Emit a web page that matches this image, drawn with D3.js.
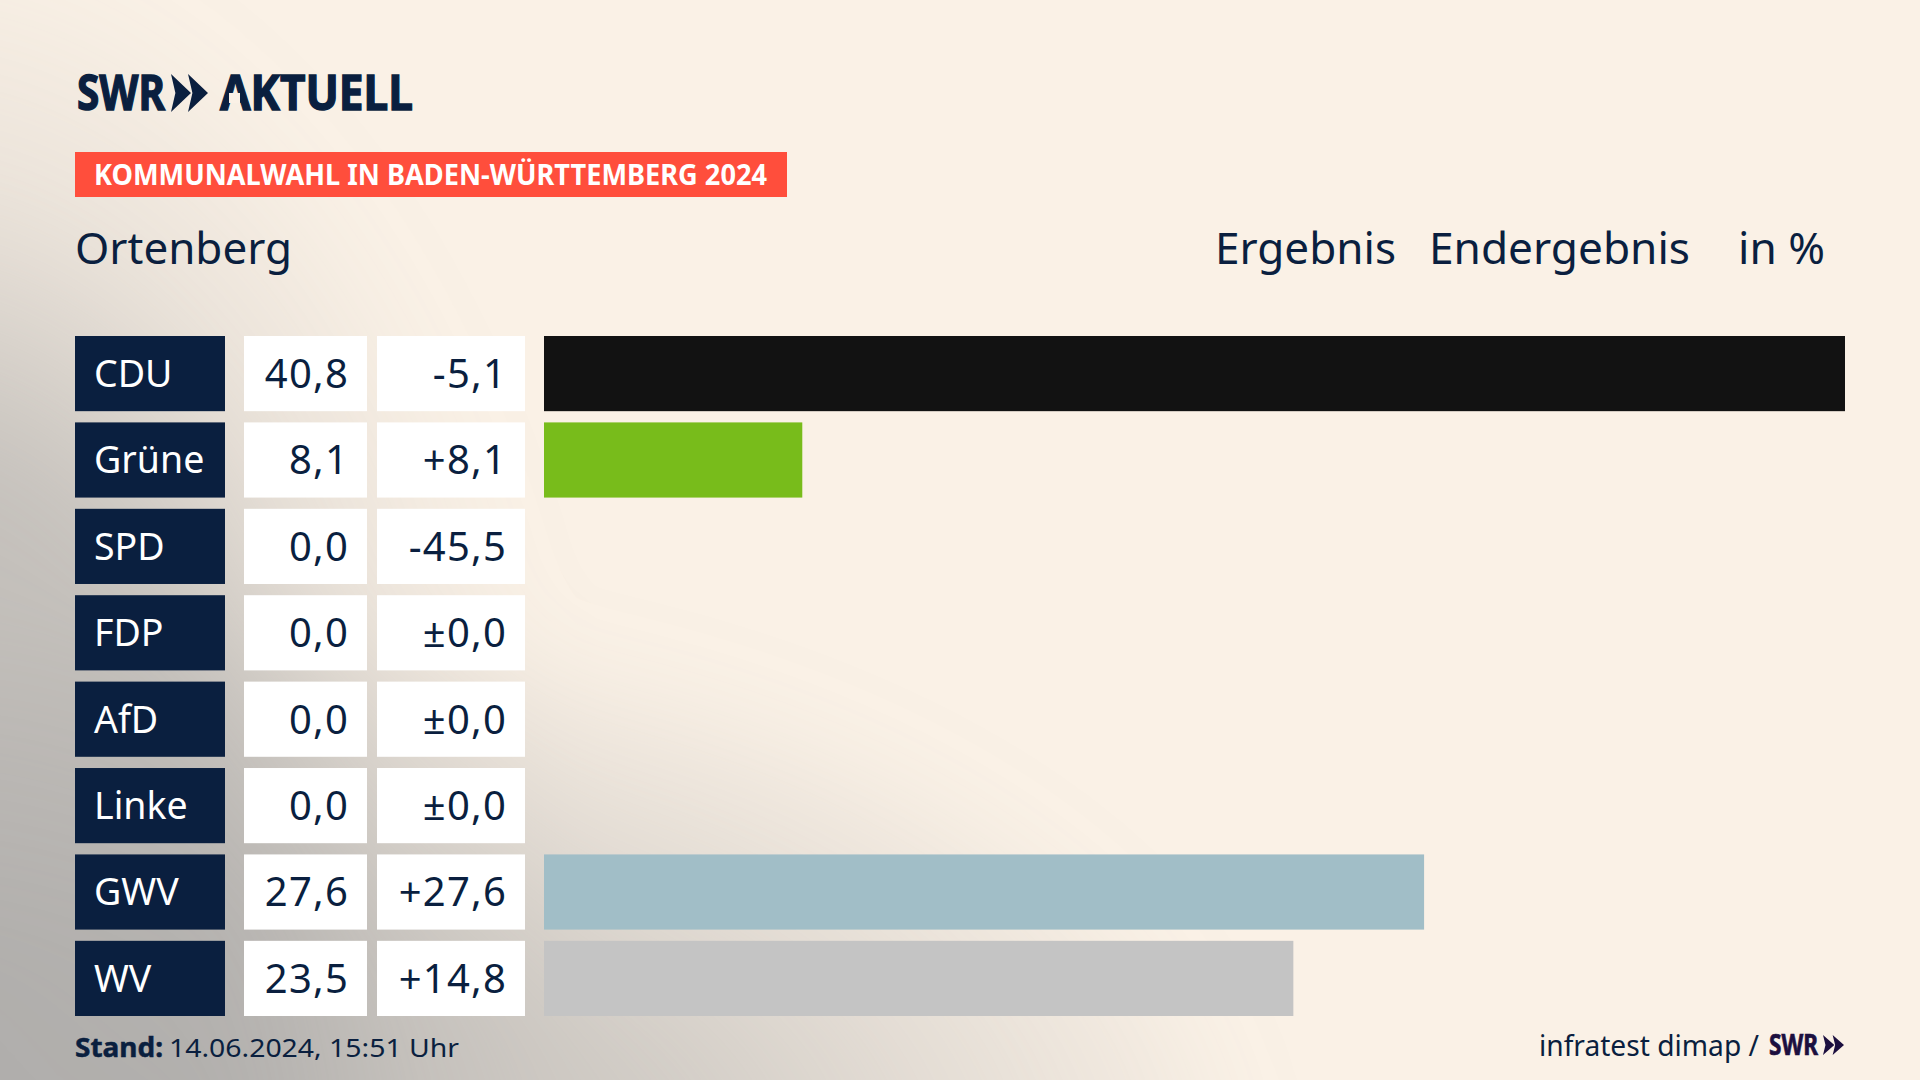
<!DOCTYPE html>
<html>
<head>
<meta charset="utf-8">
<script src="https://cdnjs.cloudflare.com/ajax/libs/d3/7.8.5/d3.min.js"></script>
<style>
body { margin: 0; background: #faf1e6; overflow: hidden; }
text { font-family: "Noto Sans", sans-serif; }
</style>
</head>
<body>
<script>
// data
var parties = ["CDU", "Grüne", "SPD", "FDP", "AfD", "Linke", "GWV", "WV"];
var results = [40.8, 8.1, 0.0, 0.0, 0.0, 0.0, 27.6, 23.5];
var changes = [-5.1, 8.1, -45.5, 0.0, 0.0, 0.0, 27.6, 14.8];
var barColors = ["#121212", "#78bc1b", "#e2001a", "#ffe000", "#00a0e0", "#b0006a", "#a1bec7", "#c4c4c4"];

var width = 1920;
var height = 1080;
var navy = "#0a1f3f";
var bg = "#faf1e6";

var svg = d3.select("body").append("svg")
  .attr("width", width)
  .attr("height", height);

var defs = svg.append("defs");

// grey haze along the left edge and the bottom edge
function haze(id, transform, stops) {
  var g = defs.append("radialGradient")
    .attr("id", id)
    .attr("gradientUnits", "userSpaceOnUse")
    .attr("cx", 0).attr("cy", 0).attr("r", 1)
    .attr("gradientTransform", transform);
  stops.forEach(function(s) {
    g.append("stop").attr("offset", s[0]).attr("stop-color", "#a5a4a3").attr("stop-opacity", s[1]);
  });
}
haze("hazeLeft", "translate(-100,1000) scale(680,1080)", [[0, 0.75], [0.5, 0.62], [0.65, 0.36], [0.76, 0.18], [1, 0]]);
haze("hazeBottom", "translate(200,1180) scale(1050,560)", [[0, 0.65], [0.23, 0.56], [0.44, 0.5], [0.69, 0.28], [0.97, 0.06], [1, 0]]);

defs.append("filter").attr("id", "soft")
  .attr("filterUnits", "userSpaceOnUse")
  .attr("x", -300).attr("y", -300).attr("width", 2520).attr("height", 1680)
  .append("feGaussianBlur").attr("stdDeviation", 45);

svg.append("rect").attr("width", width).attr("height", height).attr("fill", bg);
var hazeGroup = svg.append("g").attr("filter", "url(#soft)");
["hazeLeft", "hazeBottom"].forEach(function(id) {
  hazeGroup.append("rect")
    .attr("x", -300).attr("y", -300)
    .attr("width", width + 600).attr("height", height + 600)
    .attr("fill", "url(#" + id + ")");
});

// logo
function chevrons(g, x, y, w, h, color) {
  var cw = w * 0.54;
  var d = "";
  [0, w - cw].forEach(function(o) {
    d += "M" + (x + o) + "," + y
      + "L" + (x + o + cw) + "," + (y + h / 2)
      + "L" + (x + o) + "," + (y + h)
      + "L" + (x + o + cw * 0.22) + "," + (y + h / 2) + "Z";
  });
  g.append("path").attr("d", d).attr("fill", color);
}

svg.append("text").attr("x", 77).attr("y", 110)
  .attr("font-size", 49).attr("font-weight", 700).attr("fill", navy)
  .attr("stroke", navy).attr("stroke-width", 1.4)
  .attr("textLength", 88).attr("lengthAdjust", "spacingAndGlyphs")
  .text("SWR");
chevrons(svg, 171, 74, 37, 38, navy);
svg.append("text").attr("x", 220).attr("y", 110)
  .attr("font-size", 49).attr("font-weight", 700).attr("fill", navy)
  .attr("stroke", navy).attr("stroke-width", 1.4)
  .attr("textLength", 193).attr("lengthAdjust", "spacingAndGlyphs")
  .text("AKTUELL");
// the logo's A has no crossbar
svg.append("rect").attr("x", 229).attr("y", 93).attr("width", 11).attr("height", 10).attr("fill", bg);

// banner
svg.append("rect").attr("x", 75).attr("y", 152).attr("width", 712).attr("height", 45).attr("fill", "#ff4e3c");
svg.append("text").attr("x", 94).attr("y", 185)
  .attr("font-size", 28).attr("font-weight", 700).attr("fill", "#fff")
  .attr("textLength", 673).attr("lengthAdjust", "spacingAndGlyphs")
  .text("KOMMUNALWAHL IN BADEN-WÜRTTEMBERG 2024");

// heading
var heads = [["Ortenberg", 75, 217], ["Ergebnis", 1215, 181], ["Endergebnis", 1429, 261], ["in %", 1738, 87]];
svg.selectAll("text.head").data(heads).enter().append("text")
  .attr("class", "head")
  .attr("x", function(d) { return d[1]; })
  .attr("y", 264)
  .attr("font-size", 43)
  .attr("fill", navy)
  .attr("textLength", function(d) { return d[2]; })
  .attr("lengthAdjust", "spacingAndGlyphs")
  .text(function(d) { return d[0]; });

// scales
var y = d3.scaleBand().domain(parties).range([336, 1016]).paddingInner(0.13);
var x = d3.scaleLinear().domain([0, d3.max(results)]).range([544, 1845]);
var color = d3.scaleOrdinal().domain(parties).range(barColors);

var de = d3.formatLocale({ decimal: ",", thousands: ".", grouping: [3], currency: ["", " €"], minus: "-" });
var fmtResult = de.format(".1f");
var fmtChange = de.format("+.1f");

var rows = svg.selectAll("g.row").data(parties).enter().append("g")
  .attr("class", "row")
  .attr("transform", function(d) { return "translate(0," + y(d) + ")"; });

rows.append("rect").attr("x", 75).attr("width", 150).attr("height", y.bandwidth()).attr("fill", navy);
rows.append("rect").attr("x", 244).attr("width", 123).attr("height", y.bandwidth()).attr("fill", "#fff");
rows.append("rect").attr("x", 377).attr("width", 148).attr("height", y.bandwidth()).attr("fill", "#fff");

rows.append("text").attr("x", 94).attr("y", 51)
  .attr("font-size", 37.5).attr("fill", "#fff")
  .text(function(d) { return d; });

rows.append("text").attr("x", 349).attr("y", 52)
  .attr("font-size", 40).attr("letter-spacing", 1.2).attr("fill", navy).attr("text-anchor", "end")
  .text(function(d, i) { return fmtResult(results[i]); });

rows.append("text").attr("x", 507).attr("y", 52)
  .attr("font-size", 40).attr("letter-spacing", 1.2).attr("fill", navy).attr("text-anchor", "end")
  .text(function(d, i) { return changes[i] === 0 ? "±0,0" : fmtChange(changes[i]); });

rows.append("rect")
  .attr("x", x(0))
  .attr("width", function(d, i) { return x(results[i]) - x(0); })
  .attr("height", y.bandwidth())
  .attr("fill", function(d) { return color(d); });

// footer
svg.append("text").attr("x", 75).attr("y", 1057).attr("font-size", 27).attr("font-weight", 700).attr("fill", navy)
  .attr("stroke", navy).attr("stroke-width", 0.5)
  .attr("textLength", 88).attr("lengthAdjust", "spacingAndGlyphs")
  .text("Stand:");
svg.append("text").attr("x", 169).attr("y", 1057).attr("font-size", 26).attr("fill", navy)
  .attr("textLength", 290).attr("lengthAdjust", "spacingAndGlyphs")
  .text("14.06.2024, 15:51 Uhr");

svg.append("text").attr("x", 1539).attr("y", 1056).attr("font-size", 29).attr("fill", navy)
  .attr("textLength", 220).attr("lengthAdjust", "spacingAndGlyphs")
  .text("infratest dimap /");
svg.append("text").attr("x", 1769).attr("y", 1055).attr("font-size", 28).attr("font-weight", 700).attr("fill", "#1c0f3f")
  .attr("stroke", "#1c0f3f").attr("stroke-width", 0.7)
  .attr("textLength", 49).attr("lengthAdjust", "spacingAndGlyphs")
  .text("SWR");
chevrons(svg, 1823, 1035, 21, 20, "#1c0f3f");
</script>
</body>
</html>
